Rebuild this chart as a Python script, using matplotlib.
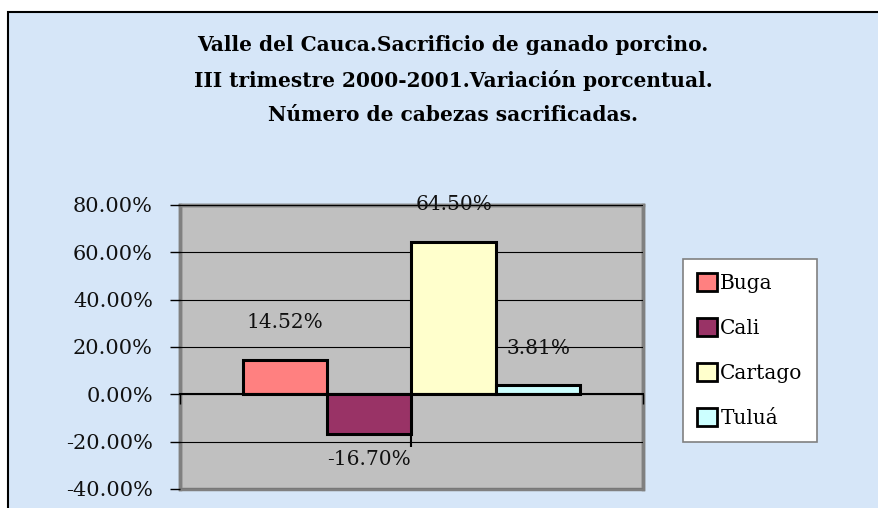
import matplotlib
matplotlib.use('agg')
import matplotlib.pyplot as plt  # noqa: E402
from matplotlib.patches import Rectangle, Patch  # noqa: E402
from matplotlib.ticker import FuncFormatter  # noqa: E402

# data
cities = ['Buga', 'Cali', 'Cartago', 'Tuluá']
variation = [14.52, -16.70, 64.50, 3.81]
colors = ['#FF8080', '#993366', '#FFFFCC', '#CCFFFF']
yticks = [-40, -20, 0, 20, 40, 60, 80]
title = ('Valle del Cauca.Sacrificio de ganado porcino.\n'
         'III trimestre 2000-2001.Variación porcentual.\n'
         'Número de cabezas sacrificadas.')

W, H = 879, 508
fig = plt.figure(figsize=(W / 100, H / 100), dpi=100)
fig.patch.set_facecolor('white')

# light blue framed background
fig.patches.append(Rectangle((8 / W, -0.1), 1.2, 1 - 12 / H + 0.1,
                             transform=fig.transFigure, facecolor='#D6E6F8',
                             edgecolor='black', linewidth=1.5, zorder=-10))

fig.text(453 / W, 1 - 80 / H, title, ha='center', va='center',
         fontsize=14.5, fontweight='bold', family='DejaVu Serif',
         linespacing=1.9)

ax = fig.add_axes([180 / W, 1 - 489 / H, 463 / W, 284 / H])
ax.set_facecolor('#C0C0C0')
ax.patch.set_edgecolor('#808080')
ax.patch.set_linewidth(2.5)

w = 0.1825
n = len(cities)
for i, (c, v, col) in enumerate(zip(cities, variation, colors)):
    x = (i - (n - 1) / 2) * w
    ax.bar(x, v, width=w, color=col, edgecolor='black', linewidth=2.2,
           label=c, zorder=3)
    off = 37 if v >= 0 else -26
    ax.annotate('%.2f%%' % v, (x, v), xytext=(0, off),
                textcoords='offset pixels', ha='center', va='center',
                fontsize=14.5, family='DejaVu Serif', color='#111111',
                zorder=4, annotation_clip=False)

ax.set_xlim(-0.5, 0.5)
ax.set_ylim(-40, 80)
ax.set_yticks(yticks)
ax.yaxis.set_major_formatter(FuncFormatter(lambda v, p: '%.2f%%' % v))
ax.grid(axis='y', color='black', linewidth=0.8, zorder=1)
ax.tick_params(axis='y', direction='out', length=7.5, width=1,
               pad=12, labelsize=15, colors='black')
for lab in ax.get_yticklabels():
    lab.set_family('DejaVu Serif')
    lab.set_color('#111111')

# category axis crosses at zero
ax.spines['bottom'].set_position(('data', 0))
ax.spines['bottom'].set_color('black')
ax.spines['bottom'].set_linewidth(1.5)
ax.spines['bottom'].set_zorder(3.5)
ax.set_xticks([0])
ax.set_xticks([-0.5, 0.5], minor=True)
ax.tick_params(axis='x', which='major', direction='out', length=38,
               width=1.5, labelbottom=False, colors='black')
ax.tick_params(axis='x', which='minor', direction='out', length=7.5,
               width=1, colors='black')
for s in ['left', 'right', 'top']:
    ax.spines[s].set_color('#808080')
    ax.spines[s].set_linewidth(2.5)
ax.set_axisbelow(False)

handles = [Patch(facecolor=col, edgecolor='black', linewidth=2)
           for col in colors]
leg = fig.legend(handles, cities, loc='upper left',
                 bbox_to_anchor=(683 / W, 1 - 259 / H),
                 prop={'family': 'DejaVu Serif', 'size': 14.5},
                 handlelength=1.0, handleheight=1.0, handletextpad=0.15,
                 labelspacing=1.25, borderpad=0.7, borderaxespad=0,
                 fancybox=False, shadow=False, framealpha=1)
leg.get_frame().set_edgecolor('#808080')
leg.get_frame().set_linewidth(1.2)

plt.savefig('out.png', dpi=100)
